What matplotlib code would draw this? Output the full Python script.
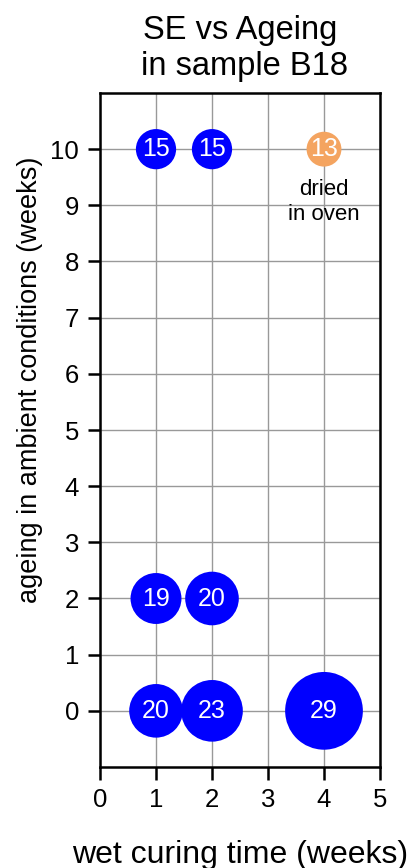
import matplotlib
matplotlib.use("Agg")
import matplotlib.pyplot as plt
from matplotlib import font_manager

plt.rcParams['font.family'] = ['Liberation Sans', 'DejaVu Sans']

# wet curing time (weeks), ageing (weeks), SE value
curing = [1, 2, 1, 2, 4, 1, 2]
ageing = [10, 10, 2, 2, 0, 0, 0]
se = [15, 15, 19, 20, 29, 20, 23]
oven_curing = [4]
oven_ageing = [10]
oven_se = [13]

fig = plt.figure(figsize=(4.14, 8.68), dpi=100)
ax = fig.add_axes([100/414, 1 - 767/868, 280/414, 674/868])

k = 1.93  # marker diameter (pt) per SE unit
ax.scatter(curing, ageing, s=[(v*k)**2 for v in se], color='#0000FF',
           edgecolors='none', zorder=3)
ax.scatter(oven_curing, oven_ageing, s=[(v*k)**2 for v in oven_se],
           color='#F4A460', edgecolors='none', zorder=3)
for x, y, v in zip(curing + oven_curing, ageing + oven_ageing, se + oven_se):
    ax.text(x, y, str(v), color='white', ha='center', va='center',
            fontsize=18, zorder=4)
ax.text(oven_curing[0], oven_ageing[0] - 0.94, 'dried\nin oven', ha='center',
        va='center', fontsize=16, linespacing=1.2)

ax.set_xlim(0, 5)
ax.set_ylim(-1, 11)
ax.set_xticks(range(0, 6))
ax.set_yticks(range(0, 11))
ax.grid(True, color='#999999', linewidth=1)
ax.set_axisbelow(True)
for sp in ax.spines.values():
    sp.set_linewidth(1.8)
ax.tick_params(direction='out', length=9, width=1.8, labelsize=18.5, pad=6)

ax.set_xlabel('wet curing time (weeks)', fontsize=23, labelpad=20)

# the y label in the original is set tighter than the x label
names = {f.name for f in font_manager.fontManager.ttflist}
if 'Liberation Sans Narrow' in names:
    ax.set_ylabel('ageing in ambient conditions (weeks)', fontsize=22.5,
                  family='Liberation Sans Narrow')
else:
    ax.set_ylabel('ageing in ambient conditions (weeks)', fontsize=19.5)
ax.yaxis.set_label_coords(-0.205, 0.574)
ax.set_title('SE vs Ageing\n in sample B18', fontsize=23.5, pad=13, linespacing=1.2)

fig.savefig('out.png', dpi=100)
